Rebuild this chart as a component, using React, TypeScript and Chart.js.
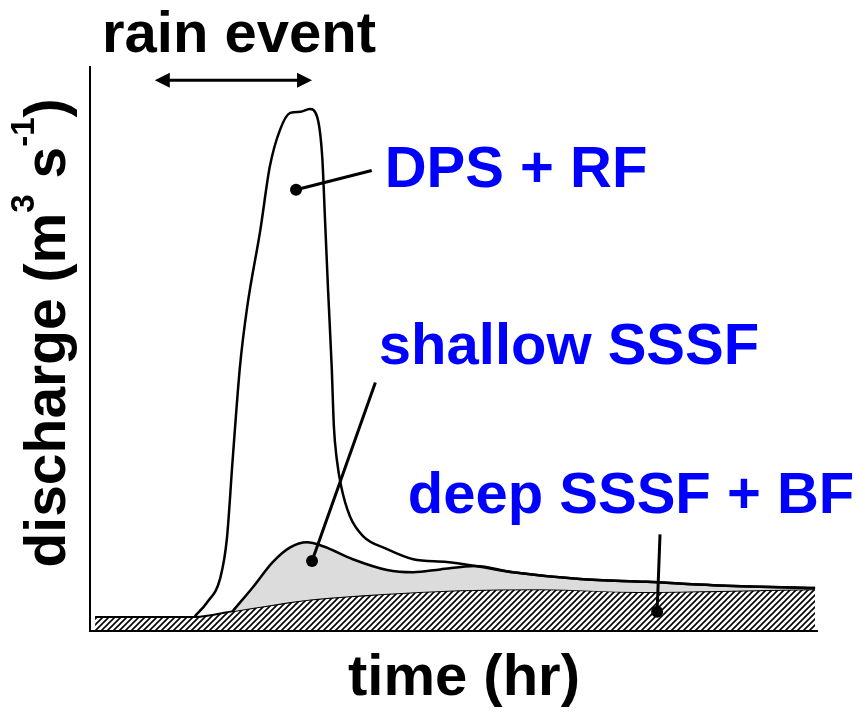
import React, { useEffect, useRef } from "react";
import { Chart, registerables } from "chart.js";

Chart.register(...registerables);

// time axis (arbitrary units 0..100) and discharge (arbitrary units 0..100)
const baseTime = [0.7, 8, 14.4, 19.6, 25, 30.6, 39.8, 50.8, 61.8, 75.5, 86.5, 99.6];
const baseFlow = [2.5, 2.5, 2.5, 3.5, 4.6, 5.6, 6.5, 7.2, 7.4, 6.9, 7.1, 7.4];

const shallowTime = [19.6, 22.4, 25.1, 27.5, 29.8, 32.0, 36.1, 40.8, 44.4, 48.1, 52.9, 58.1, 67.3, 76.5, 85.6, 99.6];
const shallowFlow = [3.5, 7.8, 12.2, 14.8, 15.7, 15.0, 12.7, 10.8, 10.4, 10.9, 11.5, 10.4, 9.2, 8.7, 8.1, 7.6];

const dpsTime = [14.4, 16.1, 17.9, 18.8, 19.6, 20.6, 21.6, 23.4, 24.7, 26.1, 27.5, 28.9, 30.2, 31.2, 31.9, 32.3, 32.7, 33.2, 33.5, 33.9, 34.5, 35.7, 37.5, 40.8, 44.4, 49.0, 52.9, 58.1, 67.3, 76.5, 85.6, 99.6];
const dpsFlow = [2.6, 5.1, 9.4, 16.3, 30.4, 46.8, 57.4, 71.0, 82.2, 88.7, 91.7, 91.9, 92.4, 91.0, 83.9, 72.3, 60.4, 46.8, 36.2, 30.4, 25.6, 20.3, 16.8, 14.5, 12.7, 12.2, 11.5, 10.4, 9.2, 8.7, 8.1, 7.6];

// annotations (data units)
const leaderLabels = ["DPS + RF", "shallow SSSF", "deep SSSF + BF"];
const leaderDotT = [28.3, 30.5, 77.9];
const leaderDotQ = [78.1, 12.4, 3.4];
const leaderEndT = [38.7, 39.2, 78.3];
const leaderEndQ = [81.5, 44.0, 17.1];

const rainStartT = 8.9;
const rainEndT = 30.5;
const rainArrowQ = 97.5;

const FONT = '"Liberation Sans", Arial, sans-serif';

const zip = (xs: number[], ys: number[]) => xs.map((x, i) => ({ x, y: ys[i] }));

function makeHatch(): CanvasPattern | string {
  const c = document.createElement("canvas");
  const s = 6;
  c.width = s;
  c.height = s;
  const g = c.getContext("2d");
  if (!g) return "#888";
  g.fillStyle = "#ffffff";
  g.fillRect(0, 0, s, s);
  g.strokeStyle = "#000000";
  g.lineWidth = 1.6;
  g.beginPath();
  g.moveTo(0, s);
  g.lineTo(s, 0);
  g.moveTo(-s / 2, s / 2);
  g.lineTo(s / 2, -s / 2);
  g.moveTo(s / 2, s * 1.5);
  g.lineTo(s * 1.5, s / 2);
  g.stroke();
  const p = g.createPattern(c, "repeat");
  return p || "#888";
}

const annotationPlugin = {
  id: "hydroAnnotations",
  afterDatasetsDraw(chart: any) {
    const ctx: CanvasRenderingContext2D = chart.ctx;
    const xs = chart.scales.x;
    const ys = chart.scales.y;
    const area = chart.chartArea;
    ctx.save();

    // axes
    ctx.strokeStyle = "#000";
    ctx.lineWidth = 2;
    ctx.beginPath();
    ctx.moveTo(area.left, area.top);
    ctx.lineTo(area.left, area.bottom);
    ctx.lineTo(area.right, area.bottom);
    ctx.stroke();

    // leader lines and dots
    ctx.lineWidth = 3;
    ctx.fillStyle = "#000";
    for (let i = 0; i < leaderLabels.length; i++) {
      const x0 = xs.getPixelForValue(leaderDotT[i]);
      const y0 = ys.getPixelForValue(leaderDotQ[i]);
      const x1 = xs.getPixelForValue(leaderEndT[i]);
      const y1 = ys.getPixelForValue(leaderEndQ[i]);
      ctx.beginPath();
      ctx.moveTo(x0, y0);
      ctx.lineTo(x1, y1);
      ctx.stroke();
      ctx.beginPath();
      ctx.arc(x0, y0, 6, 0, Math.PI * 2);
      ctx.fill();
    }

    // rain event double arrow
    const ax0 = xs.getPixelForValue(rainStartT);
    const ax1 = xs.getPixelForValue(rainEndT);
    const ay = ys.getPixelForValue(rainArrowQ);
    const hl = 15;
    const hw = 7.5;
    ctx.lineWidth = 3;
    ctx.beginPath();
    ctx.moveTo(ax0 + hl - 2, ay);
    ctx.lineTo(ax1 - hl + 2, ay);
    ctx.stroke();
    ctx.beginPath();
    ctx.moveTo(ax0, ay);
    ctx.lineTo(ax0 + hl, ay - hw);
    ctx.lineTo(ax0 + hl, ay + hw);
    ctx.closePath();
    ctx.moveTo(ax1, ay);
    ctx.lineTo(ax1 - hl, ay - hw);
    ctx.lineTo(ax1 - hl, ay + hw);
    ctx.closePath();
    ctx.fill();

    // texts
    ctx.textBaseline = "alphabetic";
    ctx.textAlign = "center";
    ctx.fillStyle = "#000";
    ctx.font = `bold 58px ${FONT}`;
    ctx.fillText("rain event", 239, 52);
    ctx.fillText("time (hr)", 464, 695);

    ctx.fillStyle = "#0000ff";
    ctx.fillText(leaderLabels[0], 516, 187);
    ctx.fillText(leaderLabels[1], 569, 364);
    ctx.fillText(leaderLabels[2], 631, 513);

    // y axis title with superscripts
    const segs = [
      { t: "discharge (m", big: true },
      { t: "3", big: false },
      { t: " s", big: true },
      { t: "-1", big: false },
      { t: ")", big: true },
    ];
    const bigF = `bold 57px ${FONT}`;
    const smallF = `bold 33px ${FONT}`;
    let total = 0;
    const widths: number[] = [];
    for (const s of segs) {
      ctx.font = s.big ? bigF : smallF;
      const w = ctx.measureText(s.t).width;
      widths.push(w);
      total += w;
    }
    ctx.translate(65, 333);
    ctx.rotate(-Math.PI / 2);
    ctx.fillStyle = "#000";
    ctx.textAlign = "left";
    let cx = -total / 2;
    segs.forEach((s, i) => {
      ctx.font = s.big ? bigF : smallF;
      ctx.fillText(s.t, cx, s.big ? 0 : -31);
      cx += widths[i];
    });

    ctx.restore();
  },
};

export default function App() {
  const ref = useRef<HTMLCanvasElement | null>(null);

  useEffect(() => {
    document.body.style.margin = "0";
    const canvas = ref.current;
    if (!canvas) return;
    const hatch = makeHatch();
    const chart = new Chart(canvas, {
      type: "line",
      data: {
        datasets: [
          {
            label: "DPS + RF",
            data: zip(dpsTime, dpsFlow),
            borderColor: "#000",
            borderWidth: 2.5,
            pointRadius: 0,
            fill: false,
            cubicInterpolationMode: "monotone",
          },
          {
            label: "shallow SSSF",
            data: zip(shallowTime, shallowFlow),
            borderColor: "#000",
            borderWidth: 2.5,
            backgroundColor: "#dcdcdc",
            pointRadius: 0,
            fill: 2,
            cubicInterpolationMode: "monotone",
          },
          {
            label: "deep SSSF + BF",
            data: zip(baseTime, baseFlow),
            borderColor: "#000",
            borderWidth: 2,
            backgroundColor: hatch as any,
            pointRadius: 0,
            fill: "origin",
            cubicInterpolationMode: "monotone",
          },
        ],
      },
      plugins: [annotationPlugin],
      options: {
        animation: false,
        responsive: true,
        maintainAspectRatio: false,
        layout: { padding: { left: 90, top: 66, right: 42, bottom: 86 } },
        plugins: { legend: { display: false }, tooltip: { enabled: false } },
        scales: {
          x: { type: "linear", min: 0, max: 100, display: false },
          y: { type: "linear", min: 0, max: 100, display: false },
        },
      },
    });
    return () => chart.destroy();
  }, []);

  return (
    <div style={{ position: "absolute", left: 0, top: 0, width: 860, height: 717, background: "#fff" }}>
      <canvas ref={ref} />
    </div>
  );
}
